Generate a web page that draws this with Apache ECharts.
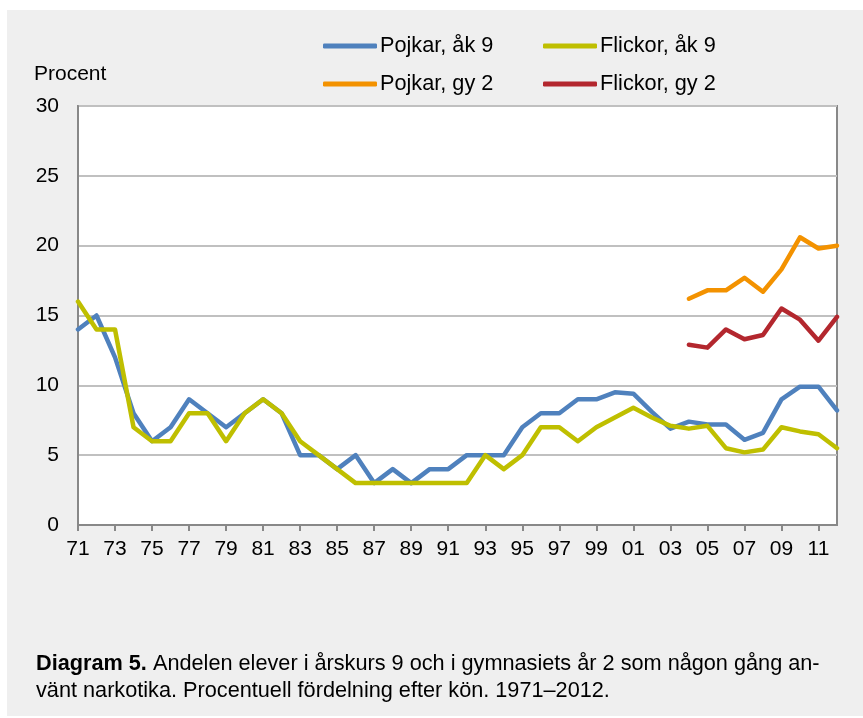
<!DOCTYPE html>
<html>
<head>
<meta charset="utf-8">
<script src="https://cdn.jsdelivr.net/npm/echarts@6/dist/echarts.min.js"></script>
<style>
html,body{margin:0;padding:0;background:#fff;}
#wrap{position:relative;width:863px;height:718px;}
#bg{position:absolute;left:7px;top:10px;width:856px;height:706px;background:#efefef;}
#chart{position:absolute;left:0;top:0;width:863px;height:718px;}
</style>
</head>
<body>
<div id="wrap"><div id="bg"></div><div id="chart"></div></div>
<script>
const years = ['71','72','73','74','75','76','77','78','79','80','81','82','83','84','85','86','87','88','89','90','91','92','93','94','95','96','97','98','99','00','01','02','03','04','05','06','07','08','09','10','11','12'];
const pojkarAk9 = [14,15,12,8,6,7,9,8,7,8,9,8,5,5,4,5,3,4,3,4,4,5,5,5,7,8,8,9,9,9.5,9.4,8.1,6.9,7.4,7.2,7.2,6.1,6.6,9.0,9.9,9.9,8.2];
const flickorAk9 = [16,14,14,7,6,6,8,8,6,8,9,8,6,5,4,3,3,3,3,3,3,3,5,4,5,7,7,6,7,7.7,8.4,7.7,7.1,6.9,7.1,5.5,5.2,5.4,7.0,6.7,6.5,5.5];
const pojkarGy2 = [null,null,null,null,null,null,null,null,null,null,null,null,null,null,null,null,null,null,null,null,null,null,null,null,null,null,null,null,null,null,null,null,null,16.2,16.8,16.8,17.7,16.7,18.3,20.6,19.8,20.0];
const flickorGy2 = [null,null,null,null,null,null,null,null,null,null,null,null,null,null,null,null,null,null,null,null,null,null,null,null,null,null,null,null,null,null,null,null,null,12.9,12.7,14.0,13.3,13.6,15.5,14.7,13.2,14.9];
const seriesNames = ['Pojkar, åk 9','Flickor, åk 9','Pojkar, gy 2','Flickor, gy 2'];
const colors = ['#4f81bd','#bfbf00','#f39200','#b3272e'];
const yTicks = [0,5,10,15,20,25,30];

const font = 'Liberation Sans, Arial, sans-serif';
const chart = echarts.init(document.getElementById('chart'));
const datas = [pojkarAk9, flickorAk9, pojkarGy2, flickorGy2];
const legendPos = [[323,35],[543,35],[323,73],[543,73]];
chart.setOption({
  animation:false,
  backgroundColor:'transparent',
  color:colors,
  textStyle:{fontFamily:font},
  legend: seriesNames.map((n,i)=>({
    data:[n], left:legendPos[i][0], top:legendPos[i][1],
    icon:'roundRect', itemWidth:54, itemHeight:5, itemGap:0,
    padding:0,
    textStyle:{fontSize:21.7, color:'#000', fontFamily:font, padding:[0,0,0,-2]}
  })),
  grid:{left:78,right:26,top:106,bottom:193,show:true,backgroundColor:'#fff',borderColor:'#888',borderWidth:2,containLabel:false},
  xAxis:{
    type:'category', data:years, boundaryGap:false,
    axisLine:{lineStyle:{color:'#888',width:2}},
    axisTick:{show:true,interval:1,length:6,lineStyle:{color:'#888',width:2}},
    axisLabel:{interval:1,fontSize:21,color:'#000',margin:14,fontFamily:font},
    splitLine:{show:false}
  },
  yAxis:{
    type:'value', min:yTicks[0], max:yTicks[yTicks.length-1], interval:5,
    axisLine:{show:true,lineStyle:{color:'#888',width:2}},
    axisTick:{show:false},
    axisLabel:{fontSize:21,color:'#000',margin:19,fontFamily:font},
    splitLine:{show:true,lineStyle:{color:'#c0c0c0',width:2}}
  },
  graphic:[
    {type:'text',left:34,top:64,style:{text:'Procent',font:'21px '+font,fill:'#000'}},
    {type:'text',left:36,top:653,style:{
      text:'{b|Diagram 5.} Andelen elever i årskurs 9 och i gymnasiets år 2 som någon gång an-',
      font:'21.7px '+font, fill:'#000',
      rich:{b:{fontWeight:'bold',fontSize:21.7,fontFamily:font,fill:'#000'}}
    }},
    {type:'text',left:36,top:680,style:{text:'vänt narkotika. Procentuell fördelning efter kön. 1971–2012.',font:'21.7px '+font,fill:'#000'}}
  ],
  series: seriesNames.map((n,i)=>({
    name:n, type:'line', data:datas[i], symbol:'none', connectNulls:false,
    lineStyle:{width:4.5,color:colors[i],cap:'round',join:'round'},
    itemStyle:{color:colors[i]}
  }))
});
</script>
</body>
</html>
